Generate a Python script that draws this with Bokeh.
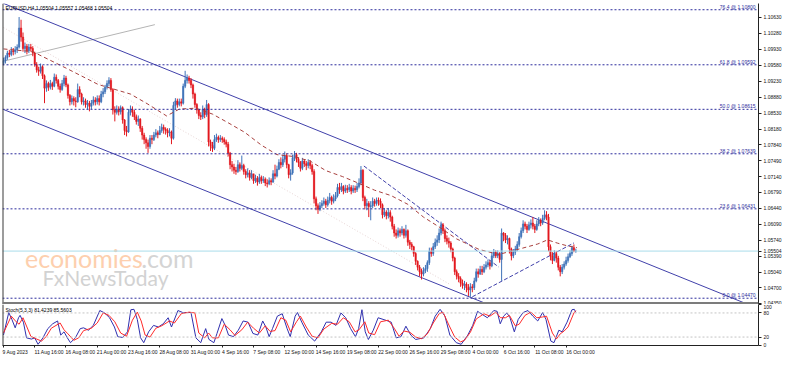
import numpy as np
from bokeh.plotting import figure
from bokeh.models import ColumnDataSource, Range1d, Span, Label, FixedTicker, LinearAxis
from bokeh.layouts import column
from bokeh.embed import file_html
from bokeh.resources import INLINE

# ---------------- data ----------------
TITLE = "EURUSD,H4 1.05504 1.05557 1.05468 1.05504"
STOCH_TITLE = "Stoch(5,3,3) 81.4239 85.5603"
LAST_PRICE = 1.05504

OPEN_FIRST_PIPS = 10962
CLOSE_PIPS = [
    10968, 10975, 10985, 10982, 10990, 10988, 10992, 10998, 11040, 11020, 10995, 11000, 10990, 10998, 10995, 10985,
    10960, 10948, 10945, 10955, 10935, 10908, 10918, 10910, 10918, 10912, 10932, 10925, 10912, 10905, 10918, 10930,
    10915, 10892, 10878, 10885, 10880, 10878, 10905, 10895, 10878, 10880, 10872, 10875, 10868, 10875, 10882, 10878,
    10885, 10878, 10895, 10900, 10910, 10918, 10925, 10905, 10860, 10855, 10862, 10856, 10865, 10838, 10815, 10812,
    10855, 10862, 10855, 10845, 10835, 10840, 10820, 10805, 10795, 10788, 10780, 10798, 10795, 10805, 10810, 10806,
    10815, 10822, 10818, 10815, 10810, 10812, 10798, 10870, 10880, 10872, 10878, 10875, 10912, 10925, 10930, 10925,
    10915, 10895, 10872, 10860, 10848, 10845, 10862, 10850, 10872, 10790, 10782, 10776, 10795, 10800, 10795, 10798,
    10795, 10790, 10785, 10765, 10740, 10735, 10728, 10725, 10740, 10732, 10738, 10725, 10718, 10722, 10712, 10720,
    10705, 10710, 10702, 10712, 10705, 10708, 10700, 10698, 10705, 10702, 10720, 10715, 10730, 10745, 10740, 10752,
    10760, 10740, 10718, 10722, 10755, 10762, 10752, 10745, 10732, 10748, 10742, 10738, 10745, 10738, 10725, 10665,
    10650, 10642, 10650, 10655, 10660, 10652, 10662, 10668, 10660, 10665, 10672, 10690, 10685, 10692, 10682, 10688,
    10685, 10690, 10682, 10688, 10685, 10692, 10700, 10728, 10668, 10650, 10655, 10648, 10650, 10660, 10655, 10662,
    10660, 10652, 10630, 10636, 10628, 10635, 10625, 10605, 10590, 10585, 10595, 10590, 10598, 10585, 10595, 10570,
    10565, 10560, 10545, 10528, 10515, 10505, 10500, 10508, 10512, 10525, 10550, 10545, 10560, 10570, 10575, 10590,
    10608, 10595, 10578, 10572, 10568, 10555, 10535, 10505, 10495, 10490, 10480, 10475, 10478, 10470, 10465, 10472,
    10470, 10485, 10505, 10500, 10510, 10505, 10515, 10520, 10525, 10518, 10540, 10548, 10540, 10545, 10532, 10590,
    10585, 10575, 10578, 10555, 10540, 10548, 10555, 10565, 10582, 10595, 10610, 10605, 10598, 10608, 10612, 10605,
    10598, 10610, 10618, 10612, 10622, 10630, 10625, 10560, 10540, 10530, 10545, 10535, 10515, 10505, 10515, 10522,
    10530, 10538, 10545, 10558, 10550.4, 10550.4,
]
HIGH_PIPS = [
    10975, 10980, 10990, 10992, 10998, 10996, 11000, 11004, 11064, 11058, 11030, 11008, 11005, 11005, 11005, 11000,
    10988, 10965, 10955, 10962, 10958, 10938, 10925, 10922, 10926, 10922, 10940, 10938, 10928, 10918, 10926, 10937,
    10935, 10918, 10895, 10892, 10890, 10888, 10918, 10912, 10898, 10888, 10885, 10882, 10880, 10882, 10890, 10888,
    10892, 10892, 10902, 10908, 10915, 10925, 10932, 10930, 10908, 10868, 10870, 10868, 10870, 10868, 10840, 10825,
    10862, 10870, 10868, 10860, 10850, 10848, 10842, 10825, 10810, 10800, 10795, 10805, 10805, 10812, 10818, 10815,
    10825, 10830, 10828, 10822, 10820, 10820, 10815, 10878, 10886, 10885, 10885, 10885, 10918, 10946, 10938, 10935,
    10930, 10918, 10898, 10875, 10862, 10855, 10870, 10865, 10882, 10875, 10795, 10790, 10805, 10808, 10804, 10805,
    10802, 10800, 10795, 10790, 10768, 10748, 10742, 10735, 10750, 10745, 10760, 10742, 10730, 10732, 10728, 10728,
    10718, 10718, 10715, 10720, 10716, 10715, 10712, 10708, 10712, 10710, 10728, 10740, 10738, 10752, 10756, 10762,
    10769, 10765, 10742, 10730, 10762, 10770, 10766, 10756, 10748, 10755, 10752, 10748, 10752, 10750, 10742, 10730,
    10670, 10655, 10658, 10662, 10668, 10665, 10670, 10678, 10672, 10675, 10680, 10698, 10700, 10700, 10695, 10696,
    10695, 10698, 10695, 10695, 10694, 10700, 10710, 10737, 10730, 10672, 10665, 10660, 10660, 10668, 10665, 10668,
    10668, 10666, 10655, 10645, 10640, 10645, 10640, 10628, 10610, 10598, 10602, 10600, 10605, 10600, 10608, 10598,
    10575, 10570, 10562, 10548, 10530, 10520, 10512, 10515, 10520, 10530, 10558, 10558, 10568, 10578, 10585, 10600,
    10615, 10612, 10600, 10585, 10580, 10572, 10558, 10538, 10510, 10502, 10495, 10488, 10485, 10482, 10478, 10480,
    10478, 10492, 10512, 10512, 10518, 10518, 10522, 10528, 10532, 10530, 10548, 10555, 10552, 10552, 10548, 10600,
    10592, 10590, 10585, 10580, 10558, 10555, 10562, 10572, 10590, 10602, 10618, 10615, 10610, 10615, 10620, 10625,
    10610, 10618, 10625, 10622, 10630, 10640, 10638, 10632, 10565, 10548, 10552, 10550, 10540, 10520, 10522, 10528,
    10538, 10545, 10552, 10562, 10565, 10555.7,
]
LOW_PIPS = [
    10958, 10962, 10970, 10976, 10978, 10980, 10982, 10985, 10995, 11010, 10988, 10985, 10982, 10985, 10988, 10978,
    10955, 10942, 10935, 10940, 10928, 10875, 10900, 10902, 10905, 10904, 10910, 10918, 10905, 10898, 10902, 10912,
    10910, 10885, 10870, 10872, 10870, 10866, 10876, 10888, 10872, 10870, 10865, 10862, 10857, 10862, 10870, 10870,
    10872, 10870, 10875, 10888, 10895, 10905, 10912, 10900, 10850, 10835, 10850, 10848, 10850, 10830, 10805, 10802,
    10810, 10848, 10845, 10838, 10828, 10825, 10812, 10795, 10785, 10775, 10766, 10775, 10785, 10792, 10800, 10798,
    10805, 10810, 10808, 10806, 10800, 10802, 10785, 10795, 10862, 10865, 10868, 10868, 10872, 10908, 10918, 10918,
    10908, 10885, 10865, 10852, 10840, 10838, 10840, 10842, 10845, 10780, 10770, 10768, 10772, 10790, 10788, 10790,
    10788, 10784, 10778, 10758, 10730, 10725, 10720, 10718, 10722, 10725, 10728, 10718, 10710, 10712, 10705, 10708,
    10698, 10700, 10694, 10698, 10698, 10700, 10693, 10690, 10695, 10695, 10700, 10708, 10712, 10728, 10732, 10735,
    10745, 10732, 10710, 10705, 10718, 10748, 10745, 10735, 10725, 10728, 10735, 10728, 10732, 10730, 10718, 10655,
    10640, 10632, 10638, 10645, 10650, 10645, 10648, 10655, 10652, 10655, 10660, 10668, 10676, 10680, 10675, 10678,
    10678, 10680, 10675, 10678, 10678, 10680, 10688, 10695, 10660, 10642, 10640, 10625, 10618, 10645, 10648, 10650,
    10650, 10645, 10622, 10625, 10620, 10622, 10615, 10598, 10582, 10578, 10580, 10582, 10585, 10578, 10580, 10562,
    10555, 10552, 10538, 10520, 10508, 10495, 10488, 10495, 10502, 10505, 10520, 10538, 10540, 10555, 10562, 10568,
    10585, 10588, 10570, 10565, 10558, 10548, 10528, 10498, 10488, 10482, 10472, 10468, 10465, 10460, 10452, 10450,
    10460, 10465, 10482, 10492, 10498, 10498, 10502, 10510, 10515, 10510, 10515, 10535, 10535, 10535, 10525, 10485,
    10572, 10568, 10565, 10545, 10530, 10535, 10542, 10550, 10560, 10578, 10590, 10598, 10590, 10595, 10600, 10598,
    10590, 10595, 10605, 10605, 10608, 10618, 10618, 10550, 10530, 10522, 10528, 10525, 10508, 10495, 10500, 10510,
    10518, 10525, 10535, 10540, 10548, 10546.8,
]

# moving average (bar index, price in pips)
MA_BARS = [0, 15, 32, 48.5, 65, 73.5, 83.5, 90, 98.5, 107, 115, 123.5, 132, 140, 148.5, 157, 165,
           173.5, 182, 190, 198.5, 207, 215, 223.5, 232, 243.5, 253.5, 265, 273.5, 278.5, 283.5, 288.5, 293.5]
MA_PIPS = [10994, 10988, 10952, 10916, 10895, 10874, 10847, 10862, 10864, 10851, 10832, 10811, 10783,
           10762, 10758, 10748, 10727, 10714, 10699, 10684, 10672, 10653, 10625, 10602, 10577, 10554,
           10543, 10556, 10566, 10575, 10568, 10562, 10558]

# stochastic %K (blue) and %D (red): (bar index, value)
STOCH_K_PTS = [(0, 25), (2.7, 81), (4.3, 64), (6, 43), (7.7, 68), (8.5, 74), (10.2, 57), (11.8, 18), (14.3, 15),
               (16, 18), (17.7, 2), (20.2, 18), (22.7, 41), (25.2, 53), (27.7, 60), (29.3, 25), (31, 33), (32.7, 18),
               (34.3, 6), (36.8, 18), (39.3, 41), (41, 43), (43.5, 37), (46, 49), (49.3, 86), (51.8, 80), (54.3, 68),
               (56.8, 45), (58.5, 21), (61, 19), (63.5, 33), (65.2, 88), (66.8, 89), (68.5, 64), (70.2, 18), (71.8, 6),
               (74.3, 33), (76.8, 49), (79.3, 45), (81.8, 53), (84.3, 68), (86, 45), (89.3, 86), (91.8, 81), (96, 81),
               (98.5, 18), (101, 6), (103.5, 41), (105.2, 14), (107.7, 6), (109.3, 29), (111.8, 66), (113.5, 49),
               (115.2, 25), (117.7, 21), (120.2, 37), (122.7, 60), (125.2, 57), (127.7, 29), (130.2, 25), (132.7, 60),
               (134.3, 45), (136, 21), (137.7, 41), (140.2, 72), (142.7, 78), (145.2, 41), (146.8, 21), (149.3, 72),
               (150.5, 81), (152.7, 57), (156, 25), (159.3, 10), (162.7, 33), (165.2, 57), (167.7, 57), (170.2, 49),
               (172.7, 80), (175.2, 68), (177.7, 41), (180.2, 21), (181.8, 41), (183.5, 88), (185.2, 33), (186.8, 14),
               (189.3, 37), (191.8, 68), (194.3, 64), (196.8, 60), (198.5, 57), (201, 18), (203.5, 21), (206, 47),
               (208.5, 25), (211, 14), (215.2, 18), (218.5, 41), (221, 72), (223.5, 89), (226, 72), (228.5, 25),
               (231.8, 6), (234.3, 2), (237.7, 25), (240.2, 49), (242.7, 84), (245.2, 76), (247.7, 68), (251, 86),
               (252.7, 84), (254.3, 53), (256, 72), (257.7, 80), (259.3, 68), (261.5, 33), (263.5, 64), (266, 81),
               (268.5, 86), (271, 72), (273.5, 60), (276, 81), (277.7, 64), (280.2, 10), (281.8, 6), (284.3, 37),
               (286, 33), (288.5, 57), (291, 88), (292.2, 89), (293, 81.4)]
STOCH_D_PTS = [(0, 30), (4, 72), (6.5, 58), (8, 52), (10, 68), (12, 45), (14, 22), (17, 15), (19.5, 10), (22, 22),
               (24.5, 42), (29, 55), (31, 38), (33, 28), (36, 12), (38.5, 18), (41, 36), (45, 42), (48, 55), (51, 80),
               (54, 74), (57, 58), (60, 30), (63, 22), (66, 62), (68.5, 82), (70.5, 60), (72.5, 25), (75, 20), (78, 42),
               (81, 48), (85, 60), (87.5, 55), (91, 78), (95, 82), (98, 80), (100, 30), (103, 18), (105, 30), (107, 18),
               (110, 18), (113, 52), (116, 38), (118.5, 24), (122, 38), (125, 57), (128, 42), (131, 30), (134, 48),
               (136.5, 34), (139, 36), (142, 68), (144.5, 62), (147, 33), (150, 58), (152, 72), (155, 45), (158, 22),
               (161, 18), (164, 40), (168, 54), (171, 52), (174, 68), (177, 58), (180, 33), (182, 38), (185, 58),
               (187, 30), (190, 26), (193, 58), (197, 62), (200, 42), (202.5, 22), (205, 35), (208, 32), (211, 20),
               (214, 16), (217, 28), (220, 55), (223, 78), (225, 82), (228, 50), (231, 20), (234, 8), (236, 12),
               (239, 32), (242, 65), (246, 78), (249, 72), (252, 82), (254.5, 68), (257, 68), (259, 74), (262, 48),
               (264, 52), (267, 74), (270, 82), (273, 68), (276, 70), (278, 72), (281, 30), (283, 15), (285, 28),
               (287, 35), (289, 45), (292, 80), (293, 85.6)]

DATE_BARS = [0, 16, 32, 48, 64, 80, 96, 112, 128, 144, 160, 176, 192, 208, 224, 240, 256, 272, 288]
DATE_LABELS = ["9 Aug 2023", "11 Aug 16:00", "16 Aug 08:00", "21 Aug 00:00", "23 Aug 16:00", "28 Aug 08:00",
               "31 Aug 00:00", "4 Sep 16:00", "7 Sep 08:00", "12 Sep 00:00", "14 Sep 16:00", "19 Sep 08:00",
               "22 Sep 00:00", "26 Sep 16:00", "29 Sep 08:00", "4 Oct 00:00", "6 Oct 16:00", "11 Oct 08:00",
               "16 Oct 00:00"]
PRICE_TICKS = [1.04350, 1.04700, 1.05040, 1.05390, 1.05740, 1.06090, 1.06440, 1.06790, 1.07140, 1.07490,
               1.07840, 1.08180, 1.08530, 1.08880, 1.09230, 1.09580, 1.09930, 1.10280, 1.10630]
STOCH_TICKS = [0, 20, 80, 100]
STOCH_LEVELS = [20, 80]

FIB_LEVELS = [1.10800, 1.09592, 1.08615, 1.07639, 1.06431, 1.04470]
FIB_TEXT = ["76.4 @ 1.10800", "61.8 @ 1.09592", "50.0 @ 1.08615", "38.2 @ 1.07639", "23.6 @ 1.06431",
            "0.0 @ 1.04470"]

# drawn objects: (bar0, bar1), (price0, price1)
CHANNEL_UPPER = ([0, 385], [1.10939, 1.04267])
CHANNEL_LOWER = ([0, 250], [1.08612, 1.04301])
GRAY_LINE = ([0, 77.5], [1.09671, 1.10473])
FAINT_LINE = ([0, 228.5], [1.10410, 1.04775])
DASH_DOWN = ([184.5, 253.5], [1.07371, 1.05155])
DASH_UP = ([240, 292], [1.04501, 1.05683])

# ---------------- styling ----------------
BULL = "#3f72b8"
BEAR = "#e3181f"
NAVY = "#2c2c9c"
CHAN = "#4040aa"
SMALL = "Liberation Sans"
FS = "5px"

X_RANGE = Range1d(-0.5, 386.5)
Y_MAIN = Range1d(1.04332, 1.10937)
Y_STOCH = Range1d(-1, 101)

close = np.array(CLOSE_PIPS, dtype=float) / 1e4
high = np.array(HIGH_PIPS, dtype=float) / 1e4
low = np.array(LOW_PIPS, dtype=float) / 1e4
opens = np.concatenate([[OPEN_FIRST_PIPS / 1e4], close[:-1]])
bars = np.arange(len(close))
col = np.where(close >= opens, BULL, BEAR)

src = ColumnDataSource(dict(x=bars, o=opens, c=close, h=high, l=low,
                            top=np.maximum(opens, close), bot=np.minimum(opens, close), col=col))

main = figure(frame_width=756, frame_height=301, x_range=X_RANGE, y_range=Y_MAIN,
              x_axis_location=None, y_axis_location="right", toolbar_location=None,
              output_backend="svg", min_border_left=2, min_border_right=0, min_border_top=3,
              min_border_bottom=0, outline_line_color=None, background_fill_color="white",
              border_fill_color="white")
main.grid.visible = False


def style_y(ax):
    ax.major_label_text_font_size = FS
    ax.major_label_text_font = SMALL
    ax.major_label_text_color = "#111111"
    ax.major_tick_out = 3
    ax.major_tick_in = 0
    ax.minor_tick_out = 0
    ax.minor_tick_in = 0
    ax.major_label_standoff = 2
    ax.axis_line_color = "#222222"
    ax.major_tick_line_color = "#222222"


# price scale, including the current price mark
yax = main.yaxis[0]
yax.ticker = FixedTicker(ticks=PRICE_TICKS + [LAST_PRICE])
overrides = {t: f"{t:.5f}" for t in PRICE_TICKS}
overrides[LAST_PRICE] = f"{LAST_PRICE:.5f}"
yax.major_label_overrides = overrides
style_y(yax)

# watermark
main.add_layout(Label(x=11, y=1.0535, text="economies", text_font="Lato", text_font_size="25px",
                      text_color="#fdcfae", text_baseline="alphabetic"))
main.add_layout(Label(x=70.5, y=1.0535, text=".com", text_font="Lato", text_font_size="25px",
                      text_color="#d4d4d4", text_baseline="alphabetic"))
main.add_layout(Label(x=20, y=1.0492, text="FxNewsToday", text_font="Lato", text_font_size="21px",
                      text_color="#d2d2d2", text_baseline="alphabetic"))

# horizontal levels
main.add_layout(Span(location=LAST_PRICE, dimension="width", line_color="#a9dcea", line_width=1))
for lvl, txt in zip(FIB_LEVELS, FIB_TEXT):
    main.add_layout(Span(location=lvl, dimension="width", line_color=NAVY, line_width=1, line_dash="2 2"))
    main.add_layout(Label(x=386.5, y=lvl, x_offset=-3, y_offset=0, text=txt, text_align="right",
                          text_baseline="bottom", text_font=SMALL, text_font_size=FS, text_color=NAVY))

# trend lines
main.line(FAINT_LINE[0], FAINT_LINE[1], line_color="#e6d4d4", line_width=1, line_dash="1 2")
main.line(GRAY_LINE[0], GRAY_LINE[1], line_color="#b4b4b4", line_width=1)
main.line(CHANNEL_UPPER[0], CHANNEL_UPPER[1], line_color=CHAN, line_width=1)
main.line(CHANNEL_LOWER[0], CHANNEL_LOWER[1], line_color=CHAN, line_width=1)
main.line(DASH_DOWN[0], DASH_DOWN[1], line_color=CHAN, line_width=1, line_dash="4 2")
main.line(DASH_UP[0], DASH_UP[1], line_color=CHAN, line_width=1, line_dash="4 2")

# candles
main.segment(x0="x", y0="l", x1="x", y1="h", line_color="col", line_width=1, source=src)
main.vbar(x="x", width=0.7, top="top", bottom="bot", fill_color="col", line_color="col",
          line_width=0.5, source=src)

# moving average
main.line(MA_BARS, np.array(MA_PIPS) / 1e4, line_color="#a8403e", line_width=1, line_dash="4 3")

# frame decorations
main.add_layout(Span(location=-0.5, dimension="height", line_color="#3a3a3a", line_width=2))
main.add_layout(Span(location=Y_MAIN.start, dimension="width", line_color="#7c7c7c", line_width=5))

main.add_layout(Label(x=-0.5, y=Y_MAIN.end, x_offset=3, y_offset=-1, text=TITLE, text_baseline="top",
                      text_font=SMALL, text_font_size=FS, text_color="#000000"))

# ---------------- stochastic panel ----------------
stoch = figure(frame_width=756, frame_height=41, x_range=X_RANGE, y_range=Y_STOCH,
               y_axis_location="right", toolbar_location=None, output_backend="svg",
               min_border_left=2, min_border_right=0, min_border_top=0, min_border_bottom=0,
               outline_line_color=None, background_fill_color="white", border_fill_color="white")
stoch.grid.visible = False

sy = stoch.yaxis[0]
sy.ticker = FixedTicker(ticks=STOCH_TICKS)
style_y(sy)

# first date axis: tick marks at the bar of each label
sx = stoch.xaxis[0]
sx.ticker = FixedTicker(ticks=DATE_BARS)
sx.major_label_overrides = {b: "" for b in DATE_BARS}
sx.major_label_text_font_size = "0px"
sx.major_label_standoff = 0
sx.major_tick_out = 2
sx.major_tick_in = 0
sx.minor_tick_out = 0
sx.minor_tick_in = 0
sx.axis_line_color = "#222222"
sx.major_tick_line_color = "#222222"

# second date axis: the labels, which start at their bar (centred half a label to its right)
centres = [b + 0.66 * len(t) - 0.5 for b, t in zip(DATE_BARS, DATE_LABELS)]
lab_ax = LinearAxis(ticker=FixedTicker(ticks=centres),
                    major_label_overrides={c: t for c, t in zip(centres, DATE_LABELS)})
lab_ax.major_label_text_font_size = FS
lab_ax.major_label_text_font = SMALL
lab_ax.major_label_text_color = "#111111"
lab_ax.major_label_standoff = 1
lab_ax.axis_line_color = None
lab_ax.major_tick_out = 0
lab_ax.major_tick_in = 0
lab_ax.minor_tick_out = 0
lab_ax.minor_tick_in = 0
stoch.add_layout(lab_ax, "below")

for lv in STOCH_LEVELS:
    stoch.add_layout(Span(location=lv, dimension="width", line_color="#c4c4c4", line_width=1, line_dash="2 2"))

kb, kv = zip(*STOCH_K_PTS)
db, dv = zip(*STOCH_D_PTS)
stoch.line(list(kb), list(kv), line_color="#2f2fae", line_width=1)
stoch.line(list(db), list(dv), line_color="#ff2a2a", line_width=1)

stoch.add_layout(Span(location=-0.5, dimension="height", line_color="#3a3a3a", line_width=2))
stoch.add_layout(Label(x=-0.5, y=Y_STOCH.end, x_offset=3, y_offset=-2, text=STOCH_TITLE, text_baseline="top",
                       text_font=SMALL, text_font_size=FS, text_color="#000000"))

layout = column(main, stoch)
open("out.html", "w").write(file_html(layout, INLINE))
